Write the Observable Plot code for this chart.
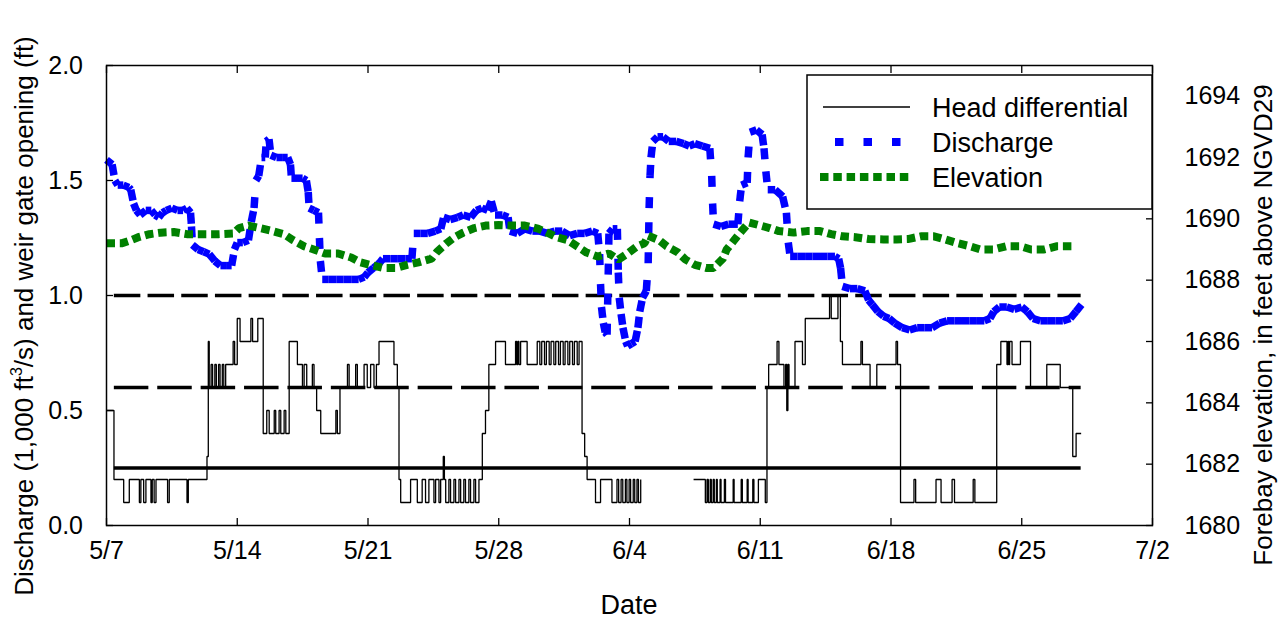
<!DOCTYPE html>
<html>
<head>
<meta charset="utf-8">
<script src="https://cdn.jsdelivr.net/npm/d3@7"></script>
<script src="https://cdn.jsdelivr.net/npm/@observablehq/plot@0.6"></script>
<style>
  html, body { margin: 0; padding: 0; background: #fff; }
</style>
</head>
<body>
<div id="chart"></div>
<script>
// Time is stored as days after 5/7 (fractional days), values read per series.
const startUTC = Date.UTC(2010, 4, 7);
const toDate = d => new Date(startUTC + d * 864e5);

// Axis ticks
const dateTickLabels = ["5/7", "5/14", "5/21", "5/28", "6/4", "6/11", "6/18", "6/25", "7/2"];
const dateTickDays = [0, 7, 14, 21, 28, 35, 42, 49, 56];
const leftTicks = [0, 0.5, 1.0, 1.5, 2.0];
const elevationTicks = [1680, 1682, 1684, 1686, 1688, 1690, 1692, 1694];
const elevationDomain = [1680, 1695];

// Weir gate reference openings (ft)
const refLevels = [1.0, 0.6, 0.25];
const refDash = ["26.5,7.2", "34.5,8.9", null];
const refSpan = [0.42, 52.18];

// Head differential (ft), stepped record; NaN marks missing data
const headDifferential = [
  [0, 0.5], [0.4, 0.2], [0.92, 0.1], [1.22, 0.2], [1.76, 0.1], [1.84, 0.2], [1.99, 0.1], [2.11, 0.2],
  [2.38, 0.1], [2.45, 0.2], [2.55, 0.1], [2.65, 0.2], [3.27, 0.1], [3.36, 0.2], [4.31, 0.1], [4.38, 0.2],
  [5.38, 0.3], [5.45, 0.8], [5.5, 0.6], [5.6, 0.7], [5.68, 0.6], [5.8, 0.7], [5.88, 0.6], [6.0, 0.7],
  [6.08, 0.6], [6.2, 0.7], [6.28, 0.6], [6.38, 0.7], [6.78, 0.8], [6.86, 0.7], [7.0, 0.9], [7.15, 0.8],
  [7.73, 0.9], [7.82, 0.8], [8.1, 0.9], [8.39, 0.4], [8.58, 0.5], [8.71, 0.4], [8.98, 0.5], [9.06, 0.4],
  [9.24, 0.5], [9.33, 0.4], [9.51, 0.5], [9.6, 0.4], [9.78, 0.8], [10.22, 0.7], [10.49, 0.6], [10.58, 0.7],
  [10.72, 0.6], [11.02, 0.7], [11.11, 0.6], [11.25, 0.5], [11.47, 0.4], [12.28, 0.5], [12.36, 0.4], [12.5, 0.6],
  [12.9, 0.7], [12.99, 0.6], [13.34, 0.7], [13.43, 0.6], [13.79, 0.7], [13.96, 0.6], [14.14, 0.7], [14.32, 0.6],
  [14.45, 0.7], [14.59, 0.8], [15.39, 0.7], [15.57, 0.6], [15.66, 0.2], [15.75, 0.1], [16.28, 0.2], [16.64, 0.1],
  [16.9, 0.2], [17.08, 0.1], [17.26, 0.2], [17.53, 0.1], [17.62, 0.2], [17.8, 0.1], [17.89, 0.2], [18.03, 0.3],
  [18.09, 0.2], [18.16, 0.1], [18.33, 0.2], [18.42, 0.1], [18.6, 0.2], [18.69, 0.1], [18.87, 0.2], [18.96, 0.1],
  [19.13, 0.2], [19.22, 0.1], [19.4, 0.2], [19.49, 0.1], [19.67, 0.2], [19.76, 0.1], [19.94, 0.2], [20.12, 0.4],
  [20.29, 0.5], [20.47, 0.7], [20.83, 0.8], [21.36, 0.7], [21.9, 0.8], [21.96, 0.7], [22.02, 0.8], [22.08, 0.7],
  [22.17, 0.8], [22.52, 0.7], [23.06, 0.8], [23.2, 0.7], [23.3, 0.8], [23.45, 0.7], [23.55, 0.8], [23.7, 0.7],
  [23.8, 0.8], [23.95, 0.7], [24.05, 0.8], [24.2, 0.7], [24.3, 0.8], [24.45, 0.7], [24.55, 0.8], [24.7, 0.7],
  [24.8, 0.8], [24.95, 0.7], [25.05, 0.8], [25.2, 0.7], [25.3, 0.8], [25.46, 0.4], [25.6, 0.3], [25.73, 0.2],
  [26.18, 0.1], [26.45, 0.2], [27.06, 0.1], [27.33, 0.2], [27.42, 0.1], [27.55, 0.2], [27.64, 0.1], [27.78, 0.2],
  [27.86, 0.1], [27.98, 0.2], [28.06, 0.1], [28.2, 0.2], [28.28, 0.1], [28.4, 0.2], [28.48, 0.1], [28.6, 0.2],
  [28.67, NaN],
  [31.43, 0.2], [32.06, 0.1], [32.15, 0.2], [32.22, 0.1], [32.32, 0.2], [32.38, 0.1], [32.48, 0.2], [32.54, 0.1],
  [32.65, 0.2], [32.7, 0.1], [32.85, 0.2], [32.9, 0.1], [33.08, 0.2], [33.14, 0.1], [33.55, 0.2], [33.6, 0.1],
  [33.98, 0.2], [34.04, 0.1], [34.3, 0.2], [34.35, 0.1], [34.6, 0.2], [34.66, 0.1], [34.9, 0.2], [35.27, 0.1],
  [35.36, 0.6], [35.45, 0.7], [35.9, 0.8], [36.0, 0.7], [36.27, 0.6], [36.36, 0.7], [36.42, 0.5], [36.48, 0.7],
  [36.54, 0.6], [36.86, 0.8], [37.26, 0.7], [37.41, 0.9], [38.71, 1.0], [38.8, 0.9], [39.16, 1.0], [39.29, 0.8],
  [39.4, 0.7], [40.39, 0.8], [40.47, 0.7], [40.88, 0.6], [41.24, 0.7], [42.27, 0.8], [42.35, 0.7], [42.51, 0.1],
  [43.23, 0.2], [43.32, 0.1], [44.41, 0.2], [44.68, 0.1], [45.27, 0.2], [45.4, 0.1], [46.4, 0.2], [46.49, 0.1],
  [47.66, 0.7], [47.88, 0.8], [48.21, 0.7], [48.26, 0.8], [48.3, 0.7], [48.35, 0.8], [48.48, 0.7], [48.93, 0.8],
  [49.47, 0.6], [50.34, 0.7], [51.06, 0.6], [51.73, 0.3], [51.91, 0.4], [52.18, 0.4]
];

// Discharge (1,000 ft3/s)
const discharge = [
  [0.0, 1.59], [0.3, 1.57], [0.45, 1.50], [0.6, 1.48], [0.9, 1.48], [1.2, 1.47], [1.3, 1.46], [1.45, 1.40],
  [1.6, 1.37], [1.8, 1.35], [2.1, 1.37], [2.4, 1.37], [2.6, 1.35], [2.8, 1.34], [3.0, 1.36], [3.2, 1.37],
  [3.5, 1.38], [3.8, 1.37], [4.1, 1.37], [4.3, 1.38], [4.5, 1.36], [4.55, 1.30], [4.6, 1.22], [4.9, 1.20],
  [5.2, 1.19], [5.5, 1.18], [5.8, 1.15], [6.1, 1.13], [6.4, 1.13], [6.7, 1.13], [6.85, 1.20], [7.0, 1.23],
  [7.3, 1.23], [7.6, 1.24], [7.75, 1.32], [7.9, 1.38], [8.0, 1.50], [8.15, 1.52], [8.3, 1.60], [8.5, 1.60],
  [8.55, 1.67], [8.7, 1.68], [8.8, 1.61], [9.1, 1.60], [9.4, 1.60], [9.7, 1.60], [9.85, 1.57], [9.9, 1.51],
  [10.2, 1.51], [10.5, 1.51], [10.7, 1.50], [10.8, 1.45], [10.85, 1.38], [11.1, 1.37], [11.35, 1.36], [11.4, 1.25],
  [11.45, 1.15], [11.55, 1.07], [11.9, 1.07], [12.3, 1.07], [12.7, 1.07], [13.1, 1.07], [13.5, 1.07], [13.8, 1.08],
  [14.0, 1.10], [14.3, 1.12], [14.6, 1.14], [14.8, 1.16], [15.2, 1.16], [15.6, 1.16], [16.0, 1.16], [16.35, 1.16],
  [16.45, 1.27], [16.8, 1.27], [17.2, 1.27], [17.6, 1.28], [17.9, 1.29], [18.05, 1.34], [18.4, 1.33], [18.8, 1.34],
  [19.1, 1.35], [19.5, 1.34], [19.8, 1.37], [20.1, 1.38], [20.4, 1.37], [20.6, 1.41], [20.8, 1.35], [21.2, 1.35],
  [21.5, 1.34], [21.6, 1.28], [22.0, 1.27], [22.4, 1.29], [22.8, 1.28], [23.2, 1.28], [23.6, 1.27], [24.0, 1.28],
  [24.4, 1.28], [24.8, 1.26], [25.2, 1.27], [25.6, 1.27], [26.0, 1.28], [26.3, 1.27], [26.4, 1.18], [26.45, 1.05],
  [26.5, 0.95], [26.6, 0.88], [26.7, 0.84], [26.8, 0.83], [26.9, 1.27], [27.1, 1.29], [27.35, 1.29], [27.4, 1.10],
  [27.45, 0.99], [27.55, 0.92], [27.65, 0.86], [27.8, 0.80], [27.9, 0.78], [28.1, 0.79], [28.3, 0.80], [28.45, 0.86],
  [28.55, 0.93], [28.7, 0.99], [28.9, 1.02], [29.0, 1.14], [29.05, 1.38], [29.1, 1.52], [29.15, 1.60], [29.25, 1.67],
  [29.5, 1.69], [29.8, 1.69], [30.1, 1.67], [30.5, 1.67], [30.9, 1.66], [31.2, 1.65], [31.5, 1.66], [31.9, 1.65],
  [32.3, 1.64], [32.4, 1.52], [32.45, 1.40], [32.5, 1.31], [32.9, 1.30], [33.3, 1.31], [33.8, 1.31], [33.9, 1.41],
  [34.0, 1.48], [34.3, 1.49], [34.35, 1.60], [34.45, 1.71], [34.8, 1.72], [35.1, 1.70], [35.2, 1.64], [35.3, 1.54],
  [35.4, 1.46], [35.8, 1.46], [36.2, 1.43], [36.4, 1.36], [36.5, 1.23], [36.6, 1.17], [37.0, 1.17], [37.4, 1.17],
  [37.8, 1.17], [38.2, 1.17], [38.6, 1.17], [39.0, 1.17], [39.2, 1.16], [39.3, 1.12], [39.4, 1.04], [39.8, 1.03],
  [40.2, 1.03], [40.6, 1.02], [40.8, 0.98], [41.0, 0.96], [41.3, 0.93], [41.6, 0.91], [41.9, 0.90], [42.2, 0.88],
  [42.6, 0.86], [43.0, 0.85], [43.4, 0.86], [43.8, 0.86], [44.2, 0.86], [44.6, 0.88], [45.0, 0.89], [45.4, 0.89],
  [45.8, 0.89], [46.2, 0.89], [46.6, 0.89], [47.0, 0.89], [47.3, 0.90], [47.5, 0.93], [47.8, 0.95], [48.2, 0.95],
  [48.6, 0.94], [49.0, 0.95], [49.3, 0.93], [49.6, 0.90], [50.0, 0.89], [50.4, 0.89], [50.8, 0.89], [51.2, 0.89],
  [51.6, 0.90], [51.9, 0.93], [52.2, 0.96]
];

// Forebay elevation (ft above NGVD29)
const elevation = [
  [0, 1689.2], [0.8, 1689.2], [1.3, 1689.3], [1.7, 1689.4], [2.3, 1689.5], [2.9, 1689.55], [3.6, 1689.57],
  [4.3, 1689.5], [5.0, 1689.5], [6.0, 1689.5], [6.8, 1689.52], [7.1, 1689.7], [7.6, 1689.78], [8.2, 1689.7],
  [8.9, 1689.6], [9.5, 1689.5], [10.0, 1689.3], [10.6, 1689.1], [11.1, 1689.0], [11.7, 1688.87], [12.4, 1688.87],
  [13.1, 1688.74], [13.6, 1688.58], [14.1, 1688.5], [14.8, 1688.4], [15.5, 1688.4], [16.1, 1688.5], [16.7, 1688.58],
  [17.4, 1688.7], [17.7, 1688.93], [18.2, 1689.2], [18.6, 1689.39], [19.1, 1689.55], [19.7, 1689.7], [20.3, 1689.78],
  [21.0, 1689.8], [21.7, 1689.78], [22.4, 1689.78], [23.1, 1689.68], [23.6, 1689.55], [24.1, 1689.4], [24.7, 1689.3],
  [25.2, 1689.1], [25.7, 1688.9], [26.3, 1688.77], [26.9, 1688.87], [27.4, 1688.67], [27.9, 1688.87], [28.4, 1689.1],
  [28.8, 1689.2], [29.0, 1689.45], [29.6, 1689.3], [30.0, 1689.1], [30.6, 1688.9], [31.0, 1688.67], [31.5, 1688.5],
  [32.1, 1688.4], [32.5, 1688.4], [33.0, 1688.7], [33.2, 1689.0], [33.6, 1689.3], [34.0, 1689.6], [34.4, 1689.88],
  [34.9, 1689.8], [35.5, 1689.7], [36.0, 1689.6], [36.8, 1689.55], [37.5, 1689.6], [38.2, 1689.6], [38.8, 1689.5],
  [39.4, 1689.43], [40.1, 1689.4], [40.8, 1689.34], [41.6, 1689.33], [42.3, 1689.33], [42.9, 1689.34], [43.6, 1689.43],
  [44.3, 1689.43], [44.9, 1689.33], [45.6, 1689.2], [46.2, 1689.11], [46.8, 1689.0], [47.5, 1689.0], [48.2, 1689.11],
  [48.9, 1689.11], [49.5, 1689.0], [50.2, 1689.0], [50.9, 1689.11], [51.8, 1689.11]
];

// Elevation shares the plot with the left scale: 1680–1695 ft maps onto 0–2.
const toLeft = e => (e - elevationDomain[0]) / (elevationDomain[1] - elevationDomain[0]) * 2;
const fromLeft = v => elevationDomain[0] + v / 2 * (elevationDomain[1] - elevationDomain[0]);

const hdData = headDifferential.map(([d, v]) => ({date: toDate(d), value: v}));
const qData = discharge.map(([d, v]) => ({date: toDate(d), value: v}));
// each segment carries its own dash phase, so dense stretches read as solid
const qSegments = d3.pairs(qData, (a, b) => ({x1: a.date, y1: a.value, x2: b.date, y2: b.value}));
const elevData = elevation.map(([d, e]) => ({date: toDate(d), y: toLeft(e)}));

const tickDates = dateTickDays.map(toDate);
const tickLabelByTime = new Map(tickDates.map((t, i) => [+t, dateTickLabels[i]]));

const FONT = "'Liberation Sans', Arial, Helvetica, sans-serif";
const BLUE = "#0000ff";
const GREEN = "#008000";
const Q_DASH = "11,19";
const E_DASH = "8.5,4.8";

const chart = Plot.plot({
  width: 1286,
  height: 621,
  marginLeft: 106,
  marginRight: 134,
  marginTop: 65,
  marginBottom: 96,
  style: {fontFamily: FONT, fontSize: "25px", color: "black", background: "white", overflow: "visible"},
  x: {type: "utc", domain: [toDate(dateTickDays[0]), toDate(dateTickDays[dateTickDays.length - 1])]},
  y: {domain: [leftTicks[0], leftTicks[leftTicks.length - 1]]},
  marks: [
    Plot.line(hdData, {x: "date", y: "value", curve: "step-after", stroke: "black", strokeWidth: 1.3,
      strokeLinejoin: "miter", strokeLinecap: "butt"}),
    ...refLevels.map((lvl, i) => Plot.ruleY([lvl], {
      x1: () => toDate(refSpan[0]), x2: () => toDate(refSpan[1]),
      stroke: "black", strokeWidth: 3.5, strokeDasharray: refDash[i]
    })),
    Plot.link(qSegments, {x1: "x1", y1: "y1", x2: "x2", y2: "y2", stroke: BLUE, strokeWidth: 7.5,
      strokeLinecap: "butt", strokeDasharray: Q_DASH}),
    Plot.line(elevData, {x: "date", y: "y", stroke: GREEN, strokeWidth: 8, strokeDasharray: E_DASH,
      strokeLinecap: "butt", strokeLinejoin: "miter"}),
    Plot.axisX(tickDates, {anchor: "bottom", tickSize: -7, tickPadding: 23, strokeWidth: 1.3, fontSize: 25,
      tickFormat: d => tickLabelByTime.get(+d), label: null}),
    Plot.axisX(tickDates, {anchor: "top", tickSize: -7, strokeWidth: 1.3, tickFormat: () => "", label: null}),
    Plot.axisY(leftTicks, {anchor: "left", tickSize: -7, tickPadding: 30.5, strokeWidth: 1.3, fontSize: 25,
      tickFormat: d3.format(".1f"), label: null}),
    Plot.axisY(elevationTicks.map(toLeft), {anchor: "right", tickSize: -7, tickPadding: 39, strokeWidth: 1.3, fontSize: 25,
      tickFormat: v => String(Math.round(fromLeft(v))), label: null}),
    Plot.frame({stroke: "black", strokeWidth: 1.5})
  ]
});

const svg = d3.select(chart);

// Legend box
const lg = svg.append("g").attr("font-family", FONT).attr("font-size", 27).attr("text-anchor", "start");
lg.append("rect").attr("x", 807).attr("y", 75).attr("width", 345).attr("height", 134)
  .attr("fill", "white").attr("stroke", "black").attr("stroke-width", 1.5);
const legendItems = [
  {label: "Head differential", y: 107, x1: 823, stroke: "black", width: 1.3, dash: null},
  {label: "Discharge", y: 142, x1: 835, stroke: BLUE, width: 8, dash: "8.5,20"},
  {label: "Elevation", y: 177, x1: 820, stroke: GREEN, width: 8, dash: E_DASH}
];
for (const it of legendItems) {
  lg.append("line").attr("x1", it.x1).attr("x2", 910).attr("y1", it.y).attr("y2", it.y)
    .attr("stroke", it.stroke).attr("stroke-width", it.width).attr("stroke-dasharray", it.dash);
  lg.append("text").attr("x", 932).attr("y", it.y + 10).text(it.label);
}

// Axis titles
const titles = svg.append("g").attr("font-family", FONT).attr("font-size", 26).attr("fill", "black")
  .attr("text-anchor", "middle");
titles.append("text").attr("x", 629).attr("y", 614).attr("font-size", 27).text("Date");

const lt = titles.append("text").attr("transform", "translate(33,316) rotate(-90)");
lt.append("tspan").text("Discharge (1,000 ft");
lt.append("tspan").attr("font-size", 16).attr("dy", -11).text("3");
lt.append("tspan").attr("dy", 11).text("/s) and weir gate opening (ft)");

titles.append("text").attr("transform", "translate(1272,325) rotate(-90)")
  .text("Forebay elevation, in feet above NGVD29");

document.getElementById("chart").appendChild(chart);
</script>
</body>
</html>
